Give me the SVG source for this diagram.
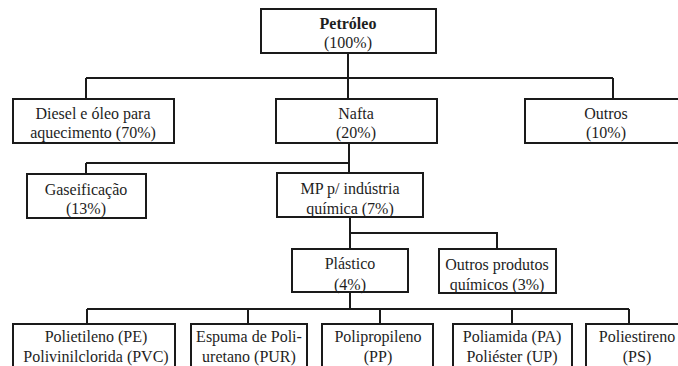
<svg xmlns="http://www.w3.org/2000/svg" width="678" height="366" viewBox="0 0 678 366">
<style>
.b{fill:#fff;stroke:#1a1a1a;stroke-width:2}
.c{fill:none;stroke:#1a1a1a;stroke-width:2}
text{font-family:"Liberation Serif","Times New Roman",serif;font-size:16px;fill:#1e1e1e;text-anchor:middle}
.bold{font-weight:bold}
</style>
<rect width="678" height="366" fill="#fff"/>
<g id="connectors">
<path class="c" d="M348 53V78M86 78H613M86 78V99M348 78V99M613 78V99"/>
<path class="c" d="M349 143V173M86 163H349M86 163V174"/>
<path class="c" d="M350 217V249M350 233H497V249"/>
<path class="c" d="M350 292V309M87 309H629M87 309V324M248 309V324M380 309V324M512 309V324M629 309V324"/>
</g>
<g id="petroleo"><rect class="b" x="261" y="9" width="175" height="44"/><text class="bold" x="348" y="29">Petróleo</text><text x="348" y="48">(100%)</text></g>
<g id="diesel"><rect class="b" x="13" y="99" width="161" height="44"/><text x="93" y="119">Diesel e óleo para</text><text x="93" y="138">aquecimento (70%)</text></g>
<g id="nafta"><rect class="b" x="276" y="99" width="161" height="44"/><text x="356" y="119">Nafta</text><text x="356" y="138">(20%)</text></g>
<g id="outros"><rect class="b" x="525" y="99" width="165" height="44"/><text x="606" y="119">Outros</text><text x="606" y="138">(10%)</text></g>
<g id="gaseificacao"><rect class="b" x="27" y="174" width="119" height="44"/><text x="86" y="195">Gaseificação</text><text x="86" y="214">(13%)</text></g>
<g id="mp"><rect class="b" x="277" y="173" width="146" height="44"/><text x="350" y="194">MP p/ indústria</text><text x="350" y="214">química (7%)</text></g>
<g id="plastico"><rect class="b" x="292" y="249" width="116" height="43"/><text x="350" y="269">Plástico</text><text x="350" y="290">(4%)</text></g>
<g id="outros-quimicos"><rect class="b" x="439" y="249" width="117" height="44"/><text x="497" y="270">Outros produtos</text><text x="497" y="290">químicos (3%)</text></g>
<g id="pe-pvc"><rect class="b" x="13" y="324" width="162" height="60"/><text x="96" y="342">Polietileno (PE)</text><text x="96" y="362">Polivinilclorida (PVC)</text></g>
<g id="pur"><rect class="b" x="191" y="324" width="116" height="60"/><text x="249" y="342">Espuma de Poli-</text><text x="249" y="362">uretano (PUR)</text></g>
<g id="pp"><rect class="b" x="322" y="324" width="111" height="60"/><text x="378" y="342">Polipropileno</text><text x="378" y="362">(PP)</text></g>
<g id="pa-up"><rect class="b" x="453" y="324" width="119" height="60"/><text x="512" y="342">Poliamida (PA)</text><text x="512" y="362">Poliéster (UP)</text></g>
<g id="ps"><rect class="b" x="586" y="324" width="104" height="60"/><text x="637" y="342">Poliestireno</text><text x="637" y="362">(PS)</text></g>
</svg>
